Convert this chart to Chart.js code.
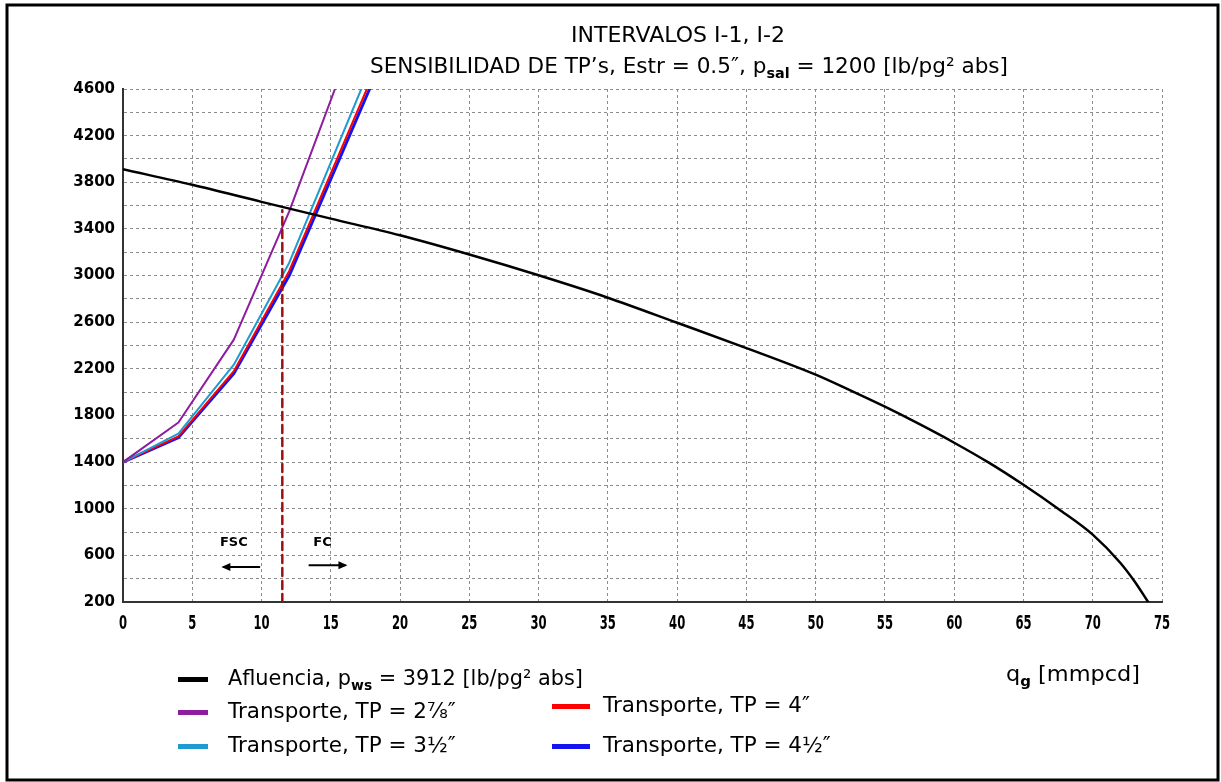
<!DOCTYPE html>
<html>
<head>
<meta charset="utf-8">
<title>Intervalos I-1, I-2</title>
<script src="https://cdn.jsdelivr.net/npm/chart.js@4.4.1/dist/chart.umd.min.js"></script>
<style>
  html, body { margin: 0; padding: 0; background: #fff; }
  #wrap { position: relative; width: 1221px; height: 782px; }
  canvas { display: block; }
</style>
</head>
<body>
<div id="wrap"><canvas id="grafica" width="1221" height="782"></canvas></div>
<script>
// Curva de afluencia (IPR), q en mmpcd y p en lb/pg² abs
const qAfluencia = [0, 5, 10, 15, 20, 25, 30, 35, 40, 45, 50, 52.5, 55, 57.5, 60, 62.5, 65, 67.5, 70, 72, 73, 74];
const pAfluencia = [3912, 3778, 3632, 3488, 3345, 3180, 3002, 2810, 2595, 2378, 2150, 2015, 1875, 1725, 1566, 1395, 1205, 1000, 778, 535, 380, 200];

// Curvas de transporte por diámetro de TP
const qTP278 = [0, 4, 8, 12, 15.3];
const pTP278 = [1400, 1740, 2450, 3550, 4600];
const qTP312 = [0, 4, 8, 12, 17.2];
const pTP312 = [1400, 1645, 2235, 3110, 4600];
const qTP4 = [0, 4, 8, 12, 17.6];
const pTP4 = [1400, 1620, 2180, 3040, 4600];
const qTP412 = [0, 4, 8, 12, 17.8];
const pTP412 = [1400, 1610, 2160, 3000, 4600];

// Línea de corte entre flujo subcrítico (FSC) y crítico (FC)
const qCorte = [11.5, 11.5];
const pCorte = [200, 3560];

// Flechas y etiquetas de zonas de flujo
const zonas = [
  { texto: 'FSC', q: 8.0, p: 710, qDesde: 9.9, qHasta: 7.1, pFlecha: 500 },
  { texto: 'FC', q: 14.4, p: 710, qDesde: 13.4, qHasta: 16.2, pFlecha: 515 }
];

// Ejes
const xMin = 0, xMax = 75, xPaso = 5;
const yMin = 200, yMax = 4600, yPaso = 200, yPasoEtiqueta = 400;

const pares = (qs, ps) => qs.map((q, i) => ({ x: q, y: ps[i] }));

const colores = {
  afluencia: '#000000',
  tp278: '#8e1c9e',
  tp312: '#1f9bd1',
  tp4: '#ff0000',
  tp412: '#1414f0',
  corte: '#9b1111'
};

const FAM = "'DejaVu Sans', 'Liberation Sans', sans-serif";

// Ancho natural de un texto con subíndices
function anchoRico(ctx, partes, o) {
  const size = o.size;
  const normal = `${o.weight || 'normal'} ${size}px ${o.family || FAM}`;
  const chico = `bold ${Math.round(size * 0.66)}px ${o.family || FAM}`;
  return partes.map(s => {
    ctx.font = s.sub ? chico : normal;
    return ctx.measureText(s.t).width;
  });
}

// Texto con subíndices, ajustado opcionalmente a un ancho
function textoRico(ctx, partes, x, y, o) {
  const size = o.size;
  const normal = `${o.weight || 'normal'} ${size}px ${o.family || FAM}`;
  const chico = `bold ${Math.round(size * 0.66)}px ${o.family || FAM}`;
  const med = anchoRico(ctx, partes, o);
  const w = med.reduce((a, b) => a + b, 0);
  const sx = o.width ? o.width / w : (o.sx || 1);
  const x0 = o.align === 'center' ? x - w * sx / 2 : (o.align === 'right' ? x - w * sx : x);
  ctx.save();
  ctx.translate(x0, y);
  if (o.rot) ctx.rotate(o.rot);
  ctx.scale(sx, 1);
  ctx.textAlign = 'left';
  ctx.textBaseline = 'middle';
  ctx.fillStyle = o.color || '#000';
  let cx = 0;
  partes.forEach((s, i) => {
    ctx.font = s.sub ? chico : normal;
    ctx.fillText(s.t, cx, s.sub ? size * 0.32 : 0);
    cx += med[i];
  });
  ctx.restore();
}

function flecha(ctx, x1, y1, x2, y2) {
  const dir = Math.sign(x2 - x1);
  ctx.save();
  ctx.strokeStyle = '#000';
  ctx.fillStyle = '#000';
  ctx.lineWidth = 2;
  ctx.beginPath();
  ctx.moveTo(x1, y1);
  ctx.lineTo(x2 - dir * 2, y2);
  ctx.stroke();
  ctx.beginPath();
  ctx.moveTo(x2, y2);
  ctx.lineTo(x2 - dir * 9, y2 - 4);
  ctx.lineTo(x2 - dir * 9, y2 + 4);
  ctx.closePath();
  ctx.fill();
  ctx.restore();
}

const decoracion = {
  id: 'decoracion',
  afterDraw(chart) {
    const ctx = chart.ctx;
    const xs = chart.scales.x, ys = chart.scales.y;

    // Etiquetas del eje horizontal (angostas)
    xs.ticks.forEach(t => {
      textoRico(ctx, [{ t: String(t.value) }], xs.getPixelForValue(t.value), 624,
        { size: 20, weight: 'bold', align: 'center', sx: 0.58 });
    });

    // Títulos
    textoRico(ctx, [{ t: 'INTERVALOS I-1, I-2' }], 678, 37, { size: 21, align: 'center', width: 214 });
    textoRico(ctx, [
      { t: 'SENSIBILIDAD DE TP’s, Estr = 0.5″, p' },
      { t: 'sal', sub: true },
      { t: ' = 1200 [lb/pg² abs]' }
    ], 689, 68, { size: 21, align: 'center', width: 638 });

    // Título del eje vertical
    textoRico(ctx, [{ t: 'p [lb/pg² abs]' }], 44, 220, { size: 19, align: 'center', width: 146, rot: -Math.PI / 2 });

    // Título del eje horizontal
    textoRico(ctx, [{ t: 'q' }, { t: 'g', sub: true }, { t: ' [mmpcd]' }], 1006, 676, { size: 21, width: 134 });

    // Zonas de flujo
    zonas.forEach(z => {
      ctx.save();
      ctx.font = `bold 13px ${FAM}`;
      ctx.fillStyle = '#000';
      ctx.textAlign = 'center';
      ctx.textBaseline = 'middle';
      ctx.fillText(z.texto, xs.getPixelForValue(z.q), ys.getPixelForValue(z.p));
      ctx.restore();
      const yF = ys.getPixelForValue(z.pFlecha);
      flecha(ctx, xs.getPixelForValue(z.qDesde), yF, xs.getPixelForValue(z.qHasta), yF);
    });

    // Leyenda: la fila de TP = 4″ fija la escala horizontal de las filas de transporte
    const tamLey = 21;
    const refTP = anchoRico(ctx, [{ t: 'Transporte, TP = 4″' }], { size: tamLey })[0];
    const sxTP = 207 / refTP;
    const leyenda = [
      { c: colores.afluencia, x: 178, y: 680, w: 355, partes: [{ t: 'Afluencia, p' }, { t: 'ws', sub: true }, { t: ' = 3912 [lb/pg² abs]' }] },
      { c: colores.tp278, x: 178, y: 713, partes: [{ t: 'Transporte, TP = 2⅞″' }] },
      { c: colores.tp312, x: 178, y: 747, partes: [{ t: 'Transporte, TP = 3½″' }] },
      { c: colores.tp4, x: 552, y: 707, partes: [{ t: 'Transporte, TP = 4″' }] },
      { c: colores.tp412, x: 552, y: 747, partes: [{ t: 'Transporte, TP = 4½″' }] }
    ];
    leyenda.forEach(l => {
      ctx.fillStyle = l.c;
      ctx.fillRect(l.x, l.y - 3, l.x === 178 ? 30 : 38, 5);
      const o = l.w ? { size: tamLey, width: l.w } : { size: tamLey, sx: sxTP };
      textoRico(ctx, l.partes, l.x === 178 ? 228 : 603, l.y, o);
    });

    // Marco
    ctx.save();
    ctx.strokeStyle = '#000';
    ctx.lineWidth = 3;
    ctx.strokeRect(7, 5, 1211, 775);
    ctx.restore();
  }
};

new Chart(document.getElementById('grafica'), {
  type: 'line',
  data: {
    datasets: [
      { label: 'Corte', data: pares(qCorte, pCorte), borderColor: colores.corte, borderWidth: 2.5, borderDash: [8, 5], order: 0 },
      { label: 'Afluencia', data: pares(qAfluencia, pAfluencia), borderColor: colores.afluencia, borderWidth: 2.5, cubicInterpolationMode: 'monotone', order: 1 },
      { label: 'TP 2 7/8', data: pares(qTP278, pTP278), borderColor: colores.tp278, borderWidth: 2, order: 2 },
      { label: 'TP 3 1/2', data: pares(qTP312, pTP312), borderColor: colores.tp312, borderWidth: 2, order: 3 },
      { label: 'TP 4', data: pares(qTP4, pTP4), borderColor: colores.tp4, borderWidth: 2, order: 4 },
      { label: 'TP 4 1/2', data: pares(qTP412, pTP412), borderColor: colores.tp412, borderWidth: 3, order: 5 }
    ]
  },
  options: {
    responsive: false,
    animation: false,
    events: [],
    elements: { point: { radius: 0 }, line: { tension: 0, borderCapStyle: 'round', borderJoinStyle: 'round' } },
    layout: { padding: { left: 0, top: 89, right: 59, bottom: 140 } },
    plugins: { legend: { display: false }, title: { display: false }, tooltip: { enabled: false } },
    scales: {
      x: {
        type: 'linear',
        min: xMin, max: xMax,
        ticks: { stepSize: xPaso, display: false },
        grid: { color: '#8c8c8c', lineWidth: 1, drawTicks: false },
        border: { display: true, color: '#333', width: 2, dash: [3, 3] },
        afterFit(s) { s.height = 40; s.paddingLeft = 0; s.paddingRight = 0; }
      },
      y: {
        type: 'linear',
        min: yMin, max: yMax,
        ticks: {
          stepSize: yPaso,
          color: '#000',
          padding: 8,
          font: { family: FAM, weight: 'bold', size: 15 },
          callback: v => ((v - yMin) % yPasoEtiqueta === 0 ? String(v) : '')
        },
        grid: { color: '#8c8c8c', lineWidth: 1, drawTicks: false },
        border: { display: true, color: '#333', width: 2, dash: [3, 3] },
        afterFit(s) { s.width = 123; s.paddingTop = 0; s.paddingBottom = 0; }
      }
    }
  },
  plugins: [decoracion]
});
</script>
</body>
</html>
